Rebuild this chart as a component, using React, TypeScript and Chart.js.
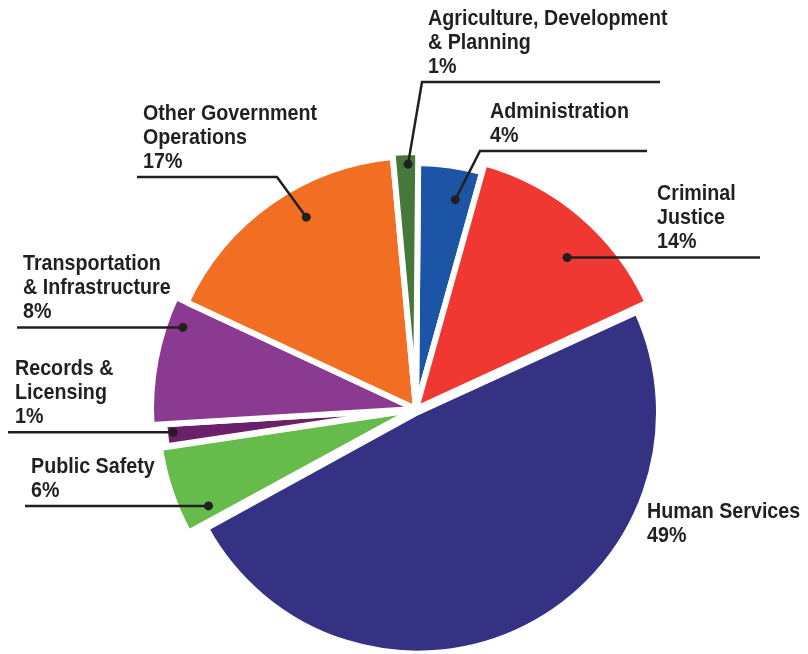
import React, { useEffect, useRef } from "react";
import { Chart, registerables } from "chart.js";

Chart.register(...registerables);

// ---- data ----
const categories = [
  "Administration",
  "Criminal\nJustice",
  "Human Services",
  "Public Safety",
  "Records &\nLicensing",
  "Transportation\n& Infrastructure",
  "Other Government\nOperations",
  "Agriculture, Development\n& Planning",
];
const shares = [4.2, 13.8, 48.9, 5.6, 1.4, 7.9, 16.6, 1.6];
const percentLabels = ["4%", "14%", "49%", "6%", "1%", "8%", "17%", "1%"];

// ---- styles ----
const sliceColors = [
  "#1c54a6",
  "#ee3831",
  "#353283",
  "#66bc4a",
  "#6b2169",
  "#8b3a92",
  "#f16e23",
  "#45783a",
];
const BORDER = 6;
const sliceRadius = [243, 252, 235, 252, 249, 262, 250, 254];
const sliceShift = [0, 0, 7, 4, 0, 0, 0, 0];

type Callout = {
  kind: "flat" | "elbow" | "none";
  f?: number;
  d?: number;
  textX: number;
  lineEnd?: number;
  elbowX?: number;
  elbowY?: number;
  lastBaseline?: number;
};
const callouts: Callout[] = [
  { kind: "elbow", f: 0.67, d: 213, elbowX: 480, elbowY: 151, lineEnd: 647, textX: 490 },
  { kind: "flat", f: 0.59, d: 214, lineEnd: 760, textX: 657 },
  { kind: "none", textX: 647, lastBaseline: 542 },
  { kind: "flat", f: 0.18, d: 229, lineEnd: 25, textX: 31 },
  { kind: "flat", f: 0.6, d: 244, lineEnd: 8, textX: 15 },
  { kind: "flat", f: 0.8, d: 247, lineEnd: 17, textX: 23 },
  { kind: "elbow", f: 0.59, d: 221, elbowX: 277, elbowY: 177, lineEnd: 137, textX: 143 },
  { kind: "elbow", f: 0.59, d: 245, elbowX: 422, elbowY: 82, lineEnd: 660, textX: 428 },
];
const INK = "#231f20";
const FONT = "bold 22px 'Liberation Sans', Arial, sans-serif";
const TEXT_SCALE_X = 0.895;
const LINE_GAP = 24;

const total = shares.reduce((a, b) => a + b, 0);

const sliceRadiusPlugin = {
  id: "sliceRadius",
  afterUpdate(chart: any) {
    const meta = chart.getDatasetMeta(0);
    meta.data.forEach((arc: any, i: number) => {
      arc.outerRadius = sliceRadius[i] + BORDER / 2;
    });
  },
};

const calloutPlugin = {
  id: "callouts",
  afterDraw(chart: any) {
    const ctx: CanvasRenderingContext2D = chart.ctx;
    const meta = chart.getDatasetMeta(0);
    ctx.save();
    ctx.font = FONT;
    ctx.fillStyle = INK;
    ctx.strokeStyle = INK;
    ctx.lineWidth = 2.5;
    ctx.textBaseline = "alphabetic";
    meta.data.forEach((arc: any, i: number) => {
      const c = callouts[i];
      const lines = categories[i].split("\n").concat([percentLabels[i]]);
      let lastBaseline = c.lastBaseline ?? 0;
      if (c.kind !== "none") {
        const a = arc.startAngle + (c.f as number) * (arc.endAngle - arc.startAngle);
        const dx = arc.x + (c.d as number) * Math.cos(a);
        const dy = arc.y + (c.d as number) * Math.sin(a);
        ctx.beginPath();
        if (c.kind === "flat") {
          ctx.moveTo(c.lineEnd as number, dy);
          ctx.lineTo(dx, dy);
          lastBaseline = dy - 9;
        } else {
          ctx.moveTo(c.lineEnd as number, c.elbowY as number);
          ctx.lineTo(c.elbowX as number, c.elbowY as number);
          ctx.lineTo(dx, dy);
          lastBaseline = (c.elbowY as number) - 9;
        }
        ctx.stroke();
        ctx.beginPath();
        ctx.arc(dx, dy, 4.5, 0, Math.PI * 2);
        ctx.fill();
      }
      const n = lines.length;
      lines.forEach((t, k) => {
        const y = lastBaseline - (n - 1 - k) * LINE_GAP;
        ctx.save();
        ctx.translate(c.textX, y);
        ctx.scale(TEXT_SCALE_X, 1);
        ctx.fillText(t, 0, 0);
        ctx.restore();
      });
    });
    ctx.restore();
  },
};

export default function App() {
  const ref = useRef<HTMLCanvasElement | null>(null);
  useEffect(() => {
    if (!ref.current) return;
    const chart = new Chart(ref.current, {
      type: "pie",
      data: {
        labels: categories,
        datasets: [
          {
            data: shares,
            backgroundColor: sliceColors,
            borderColor: "#ffffff",
            borderWidth: BORDER,
            clip: false as any,
            offset: (ctx: any) => {
              const i = ctx.dataIndex;
              const circ = (shares[i] / total) * Math.PI * 2;
              return (4 * sliceShift[i]) / (2 - Math.sin(Math.min(Math.PI, circ)));
            },
          } as any,
        ],
      },
      options: {
        responsive: false,
        animation: false,
        rotation: 0.5,
        radius: 250,
        layout: { padding: { left: 24, right: 0, top: 164, bottom: 0 } },
        plugins: {
          legend: { display: false },
          tooltip: { enabled: false },
        },
      } as any,
      plugins: [sliceRadiusPlugin, calloutPlugin],
    });
    return () => chart.destroy();
  }, []);
  return (
    <canvas
      ref={ref}
      width={808}
      height={654}
      style={{ position: "absolute", left: 0, top: 0, display: "block" }}
    />
  );
}
